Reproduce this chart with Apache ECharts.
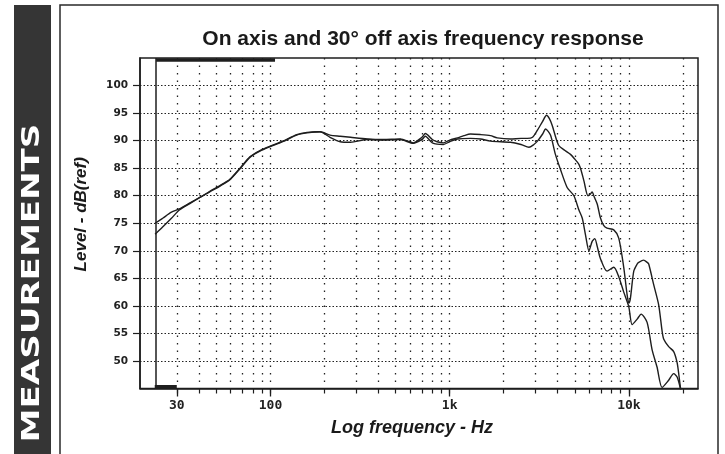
<!DOCTYPE html>
<html><head><meta charset="utf-8">
<script src="https://cdn.jsdelivr.net/npm/echarts@6/dist/echarts.min.js"></script>
<style>html,body{margin:0;padding:0;background:#fff}#c{width:725px;height:454px}</style>
</head><body><div id="c"></div>
<script>
// ---- data ----
const onAxisFreq = [22.7,25,28,31,36,42,47,52,59.4,67.6,77,87.3,99.5,117,140,160,189,215,245,280,347,426,530,627,700,732,800,850,922,1000,1105,1200,1306,1486,1690,1843,2186,2500,2710,2900,3088,3300,3470,3600,3730,4045,4400,4722,5000,5262,5400,5610,5907,6100,6237,6400,6655,6933,7229,7550,8232,8777,9358,9775,10000,10190,10646,11121,11353,12095,12635,12900,13740,14660,15310,15630,16670,17780,18580,19000,19390,19800];
const onAxisDb   = [75.0,75.9,77.0,77.6,78.8,80.0,81.0,81.8,83.0,85.0,87.1,88.2,89.0,89.9,91.1,91.5,91.6,91.0,90.8,90.6,90.3,90.2,90.3,89.6,90.6,91.3,90.2,89.8,89.6,90.1,90.5,90.9,91.2,91.1,90.9,90.5,90.3,90.4,90.4,90.6,91.9,93.5,94.6,94.0,92.8,89.2,88.2,87.5,86.6,85.7,84.7,82.7,80.0,80.3,80.7,79.8,78.5,76.0,74.6,74.1,73.8,72.3,67.0,62.0,60.5,61.3,66.3,67.6,67.9,68.3,67.9,67.6,63.9,60.2,55.5,54.0,52.6,51.7,49.7,47.5,45.2,43.5];
const offAxisFreq = [22.7,25,28,31,36,42,47,52,59.4,67.6,77,87.3,99.5,117,140,160,189,215,245,280,347,426,530,627,700,732,800,922,1000,1105,1306,1486,1690,2186,2500,2770,2950,3088,3300,3429,3650,3890,4147,4523,4933,5262,5495,5732,5985,6237,6454,6655,6933,7550,8232,8777,9358,9978,10423,11121,11707,12635,13476,14355,15310,16670,17780,18580,19390,19800];
const offAxisDb   = [73.0,74.3,75.9,77.4,78.7,80.0,80.9,81.7,82.9,84.9,87.0,88.1,88.9,89.8,91.0,91.4,91.6,90.6,89.8,89.7,90.2,90.1,90.2,89.5,90.2,90.8,89.6,89.3,89.8,90.3,90.4,90.3,89.9,89.7,89.3,88.8,89.3,89.9,91.2,92.1,91.0,87.5,84.8,81.5,80.0,77.4,75.9,72.8,70.0,71.7,72.2,70.8,68.6,66.3,67.0,65.3,62.5,59.9,56.6,57.6,58.5,57.0,52.0,48.9,45.2,46.5,47.7,47.1,45.0,43.5];

// axis ticks / grid positions
const gridFreqs = [30,40,50,60,70,80,90,100,200,300,400,500,600,700,800,900,1000,2000,3000,4000,5000,6000,7000,8000,9000,10000,20000];
const majorFreqs = [30,100,1000,10000];
const majorLabels = ['30','100','1k','10k'];
const dbTicks = [50,55,60,65,70,75,80,85,90,95,100];
const xRange = [18.7, 24300];
const yRange = [45, 105];
// plot furniture (data space)
const startLine = [[23,45],[23,105]];
const topBar = [[23,104.6],[106,104.6]];
const bottomBar = [[22.6,45.35],[30,45.35]];

const INK = '#1e1e1e';
const labelMap = {};
majorFreqs.forEach((f,i)=>{labelMap[f]=majorLabels[i];});

const chart = echarts.init(document.getElementById('c'));
chart.setOption({
  animation:false,
  backgroundColor:'#ffffff',
  title:{
    text:'On axis and 30° off axis frequency response',
    left:418, top:24, textAlign:'center',
    textStyle:{fontFamily:'Liberation Sans, Arial, sans-serif', fontWeight:'bold', fontSize:21, color:'#1a1a1a'}
  },
  graphic:[
    {type:'rect', shape:{x:14,y:5,width:37,height:460}, style:{fill:'#353535'}, z:-1},
    {type:'text', x:33, y:283, rotation:Math.PI/2, scaleX:1.42, scaleY:1,
     style:{text:'MEASUREMENTS', fill:'#ffffff', font:'bold 24px "DejaVu Sans", sans-serif', align:'center', verticalAlign:'middle'}},
    {type:'rect', shape:{x:60,y:5,width:658,height:470}, style:{fill:null, stroke:'#2a2a2a', lineWidth:1.5}, z:-1}
  ],
  grid:{left:140, right:27, top:58, bottom:65.5, show:true, borderColor:INK, borderWidth:1.5, backgroundColor:'transparent'},
  xAxis:[
    {type:'log', logBase:10, min:xRange[0], max:xRange[1],
     axisLine:{show:true, onZero:false, lineStyle:{color:INK, width:1.5}},
     axisTick:{show:true, customValues:gridFreqs, length:5, lineStyle:{color:INK, width:1.2}},
     axisLabel:{show:false},
     splitLine:{show:true, lineStyle:{type:[1.5,6], color:'#222', width:1.3}},
     minorTick:{show:false}, minorSplitLine:{show:false}
    },
    {type:'log', logBase:10, min:xRange[0], max:xRange[1], position:'bottom',
     axisLine:{show:false},
     axisTick:{show:true, customValues:majorFreqs, length:8, lineStyle:{color:INK, width:1.3}},
     axisLabel:{show:true, customValues:majorFreqs, margin:11,
       formatter:(v)=>labelMap[Math.round(v)]||'',
       fontFamily:'"DejaVu Sans Mono", monospace', fontWeight:'bold', fontSize:13, color:'#222'},
     splitLine:{show:false},
     name:'Log frequency - Hz', nameLocation:'middle', nameGap:31,
     nameTextStyle:{fontFamily:'Liberation Sans, Arial, sans-serif', fontStyle:'italic', fontWeight:'bold', fontSize:18, color:'#1a1a1a', padding:[0,14,0,0]}
    }
  ],
  yAxis:{
    type:'value', min:yRange[0], max:yRange[1], interval:5,
    axisLine:{show:true, lineStyle:{color:INK, width:1.5}},
    axisTick:{show:true, customValues:dbTicks, length:7, lineStyle:{color:INK, width:1.2}},
    axisLabel:{customValues:dbTicks, margin:12, fontFamily:'"DejaVu Sans", sans-serif', fontWeight:'bold', fontSize:10.5, color:'#222'},
    splitLine:{show:true, lineStyle:{type:[1.5,2], color:'#222', width:1.2}},
    name:'Level - dB(ref)', nameLocation:'middle', nameGap:50, nameRotate:90,
    nameTextStyle:{fontFamily:'Liberation Sans, Arial, sans-serif', fontStyle:'italic', fontWeight:'bold', fontSize:17, color:'#1a1a1a', padding:[0,0,0,18]}
  },
  series:[
    {type:'line', name:'On axis', xAxisIndex:0, data:onAxisFreq.map((f,i)=>[f,onAxisDb[i]]),
     showSymbol:false, smooth:0.25, clip:true, lineStyle:{color:INK, width:1.4},
     markLine:{silent:true, symbol:'none', label:{show:false}, animation:false,
       data:[
         [{coord:startLine[0], lineStyle:{color:INK,width:1.5,type:'solid'}},{coord:startLine[1]}],
         [{coord:topBar[0], lineStyle:{color:INK,width:3.5,type:'solid'}},{coord:topBar[1]}],
         [{coord:bottomBar[0], lineStyle:{color:INK,width:3,type:'solid'}},{coord:bottomBar[1]}]
       ]}
    },
    {type:'line', name:'30° off axis', xAxisIndex:0, data:offAxisFreq.map((f,i)=>[f,offAxisDb[i]]),
     showSymbol:false, smooth:0.25, clip:true, lineStyle:{color:INK, width:1.4}}
  ]
});
</script></body></html>
